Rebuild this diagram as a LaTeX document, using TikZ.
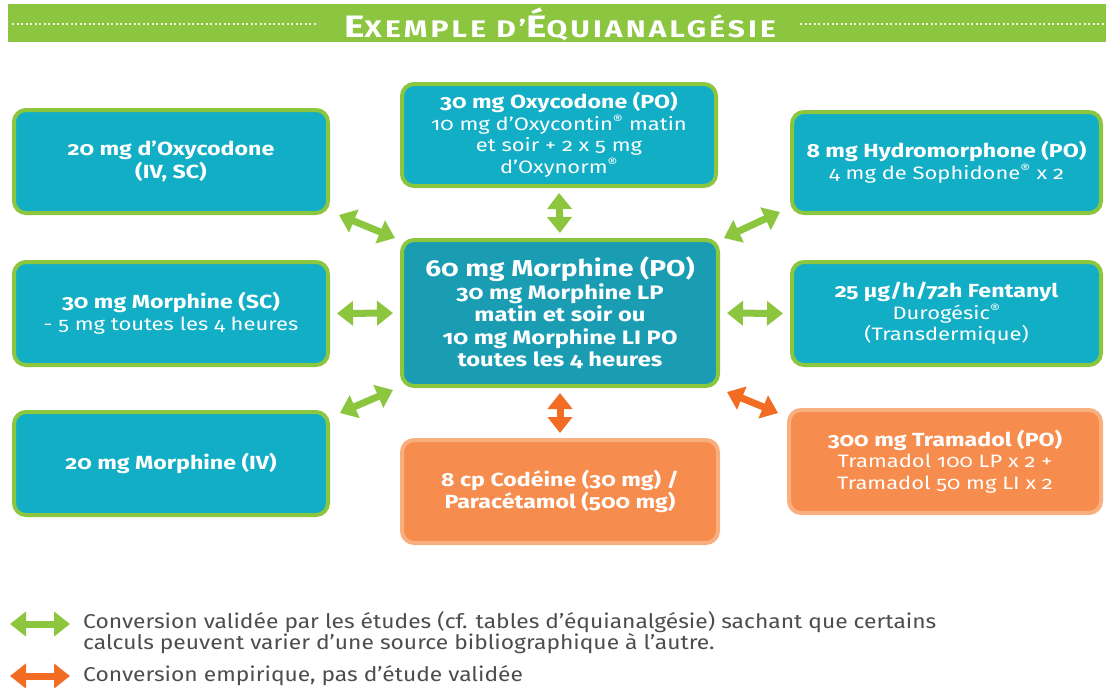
\documentclass[tikz,border=0pt]{standalone}
\usepackage{fontspec}
\setmainfont{Fira Sans}[Numbers=OldStyle]
\newfontfamily\boxfont{Fira Sans}[Numbers=OldStyle,FakeStretch=1.22]
\newfontfamily\legfont{Fira Sans}[FakeStretch=1.14]
\newfontfamily\titlefont{Fira Sans}[LetterSpace=13,FakeStretch=1.25]
\usetikzlibrary{arrows.meta}
\definecolor{grn}{HTML}{8CC63F}
\definecolor{hdr}{HTML}{8CC540}
\definecolor{tealbox}{HTML}{12AEC6}
\definecolor{tealc}{HTML}{1A9CB3}
\definecolor{orfill}{HTML}{F68D4E}
\definecolor{orline}{HTML}{F9B080}
\definecolor{orarrow}{HTML}{F26C23}
\definecolor{legtext}{HTML}{4D4D4D}
\newcommand{\hd}[1]{{\fontsize{19}{21.5}\selectfont\bfseries #1}}
\tikzset{
  medbox/.style={draw=grn, line width=4pt, rounded corners=12pt, fill=tealbox,
    text=white, align=center, inner sep=0pt,
    font=\boxfont\fontsize{18}{21.5}\selectfont},
  orbox/.style={medbox, draw=orline, fill=orfill},
  garrow/.style={draw=grn, line width=7pt,
    {Triangle[width=24pt,length=16pt]}-{Triangle[width=24pt,length=16pt]}},
  oarrow/.style={garrow, draw=orarrow}
}
\begin{document}
\begin{tikzpicture}[x=1pt,y=-1pt]
\useasboundingbox (0,0) rectangle (1106,688);
\fill[white] (0,0) rectangle (1106,688);
% header
\fill[hdr] (8,4) rectangle (1106,42);
\draw[white!85!hdr, line width=2pt, dash pattern=on 2pt off 2.5pt] (12,24) -- (318,24);
\draw[white!85!hdr, line width=2pt, dash pattern=on 2pt off 2.5pt] (800,24) -- (1106,24);
\node[text=white, inner sep=0pt] (title) at (560,24)
  {\titlefont\bfseries\fontsize{31}{31}\selectfont E\fontsize{24}{31}\selectfont XEMPLE D’\fontsize{31}{31}\selectfont É\fontsize{24}{31}\selectfont QUIANALGÉSIE};
% boxes
\node[medbox, minimum width=314pt, minimum height=103pt] (tl) at (171,161.5)
  {\hd{20 mg d’Oxycodone}\\[2pt] \hd{(IV, SC)}};
\node[medbox, minimum width=314pt, minimum height=102pt] (tc) at (559,135)
  {\hd{30 mg Oxycodone (PO)}\\ 10 mg d’Oxycontin\textsuperscript{®} matin\\ et soir + 2 x 5 mg\\ d’Oxynorm\textsuperscript{®}};
\node[medbox, minimum width=309pt, minimum height=101pt] (tr) at (946.5,162.5)
  {\hd{8 mg Hydromorphone (PO)}\\ 4 mg de Sophidone\textsuperscript{®} x 2};
\node[medbox, minimum width=314pt, minimum height=103pt] (ml) at (171,313.5)
  {\hd{30 mg Morphine (SC)}\\ - 5 mg toutes les 4 heures};
\node[medbox, fill=tealc, minimum width=316pt, minimum height=146pt,
      font=\boxfont\fontsize{19.5}{22.5}\selectfont\bfseries] (c) at (560,313)
  {{\fontsize{23}{24}\selectfont 60 mg Morphine (PO)}\\ 30 mg Morphine LP\\ matin et soir ou\\ 10 mg Morphine LI PO\\ toutes les 4 heures};
\node[medbox, minimum width=309pt, minimum height=103pt] (mr) at (946.5,313.5)
  {\hd{25 µg/h/72h Fentanyl}\\ Durogésic\textsuperscript{®}\\ (Transdermique)};
\node[medbox, minimum width=314pt, minimum height=103pt] (bl) at (171,463.5)
  {\hd{20 mg Morphine (IV)}};
\node[orbox, minimum width=316pt, minimum height=103pt] (bc) at (560,491.5)
  {\hd{8 cp Codéine (30 mg) /}\\[1pt] \hd{Paracétamol (500 mg)}};
\node[orbox, minimum width=312pt, minimum height=103pt] (br) at (945,461.5)
  {\hd{300 mg Tramadol (PO)}\\ Tramadol 100 LP x 2 +\\ Tramadol 50 mg LI x 2};
% connectors
\draw[garrow] ([xshift=9pt,yshift=0pt]tl.south east) -- ([xshift=-5pt,yshift=0pt]c.north west);
\draw[garrow, shorten <=5pt, shorten >=5pt] (tc.south) -- (c.north);
\draw[garrow] ([xshift=-10pt,yshift=3pt]tr.south west) -- ([xshift=4pt,yshift=0pt]c.north east);
\draw[garrow, shorten <=7pt, shorten >=7pt] (ml.east) -- (c.west);
\draw[garrow, shorten <=7pt, shorten >=7pt] (c.east) -- (mr.east -| tr.west);
\draw[garrow] ([xshift=10pt,yshift=-3pt]bl.north east) -- ([xshift=-7pt,yshift=-2pt]c.south west);
\draw[oarrow, shorten <=5pt, shorten >=5pt] (c.south) -- (bc.north);
\draw[oarrow] ([xshift=7pt,yshift=-4pt]c.south east) -- ([xshift=-9pt,yshift=-5pt]br.north west);
% legend
\coordinate (lg1a) at (10,624);
\coordinate (lg1b) at (70,624);
\coordinate (lg2a) at (10,676);
\coordinate (lg2b) at (70,676);
\draw[garrow] (lg1a) -- (lg1b);
\draw[oarrow] (lg2a) -- (lg2b);
\node[anchor=north west, align=left, inner sep=0pt, text=legtext,
      font=\legfont\fontsize{20}{21.5}\selectfont] (leg1) at (83,611)
  {Conversion validée par les études (cf. tables d’équianalgésie) sachant que certains\\
   calculs peuvent varier d’une source bibliographique à l’autre.};
\node[anchor=west, inner sep=0pt, text=legtext,
      font=\legfont\fontsize{20}{21.5}\selectfont] (leg2) at (83,676)
  {Conversion empirique, pas d’étude validée};
\end{tikzpicture}
\end{document}
